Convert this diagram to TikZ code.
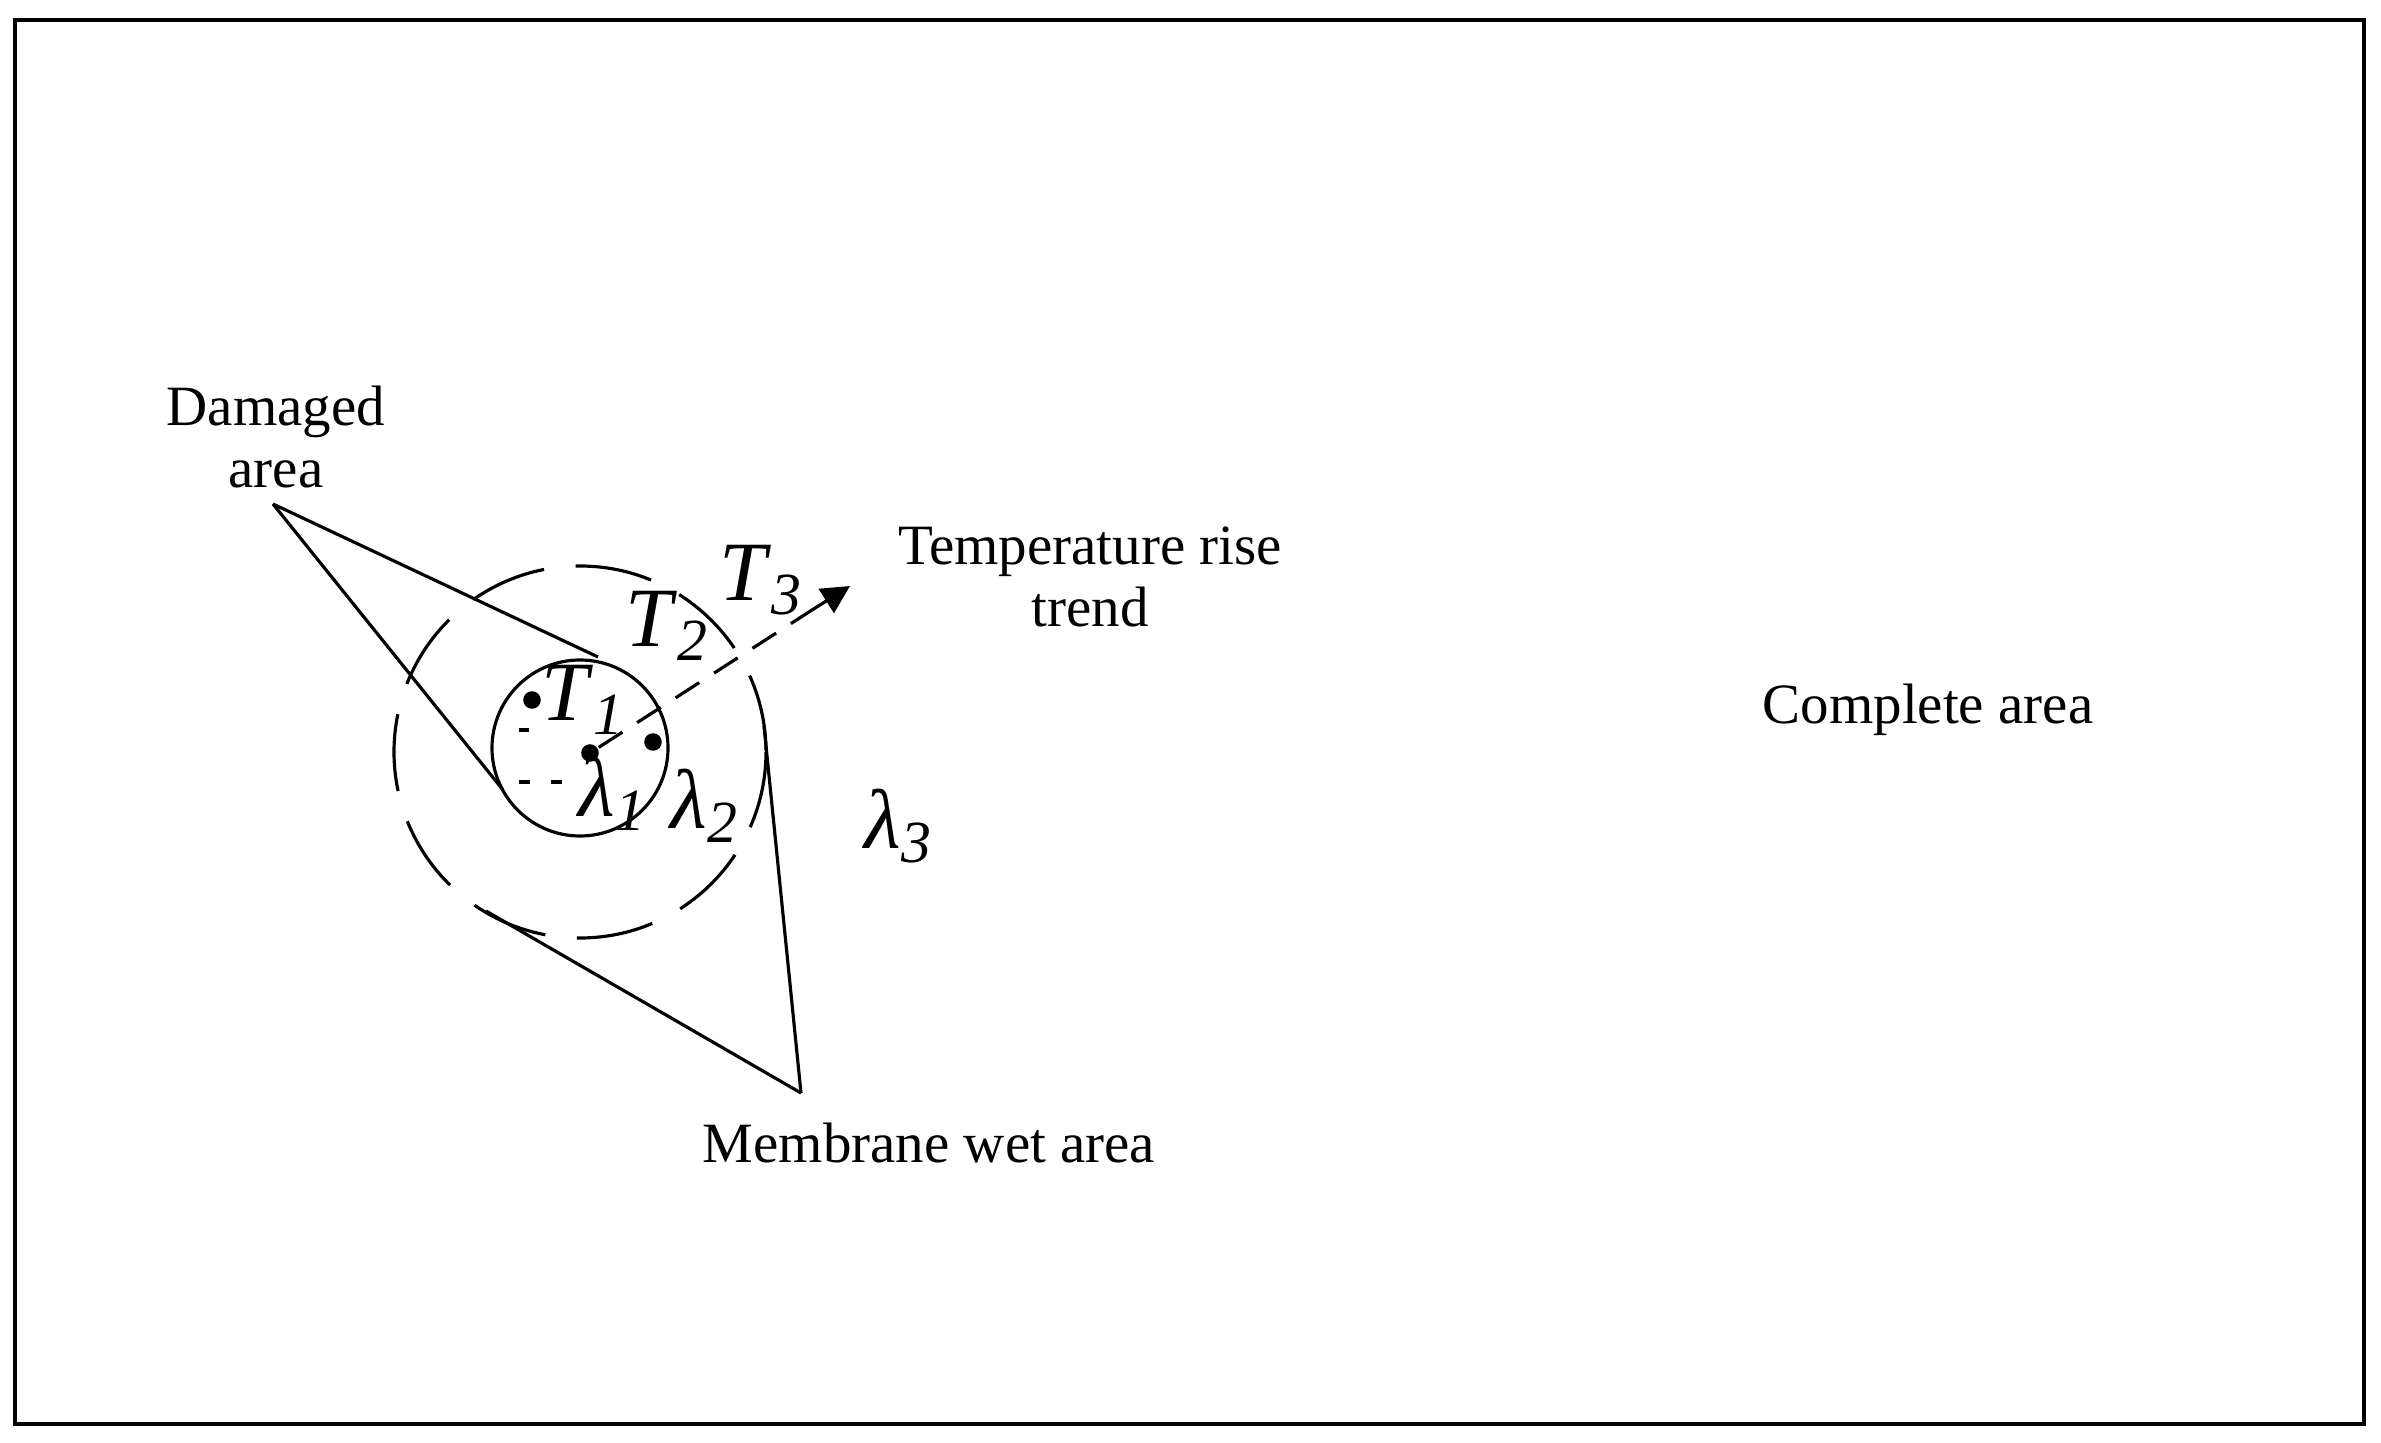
\documentclass[tikz,border=0pt]{standalone}
\usepackage{fontspec}
\setmainfont{Liberation Serif}
\usetikzlibrary{arrows.meta}
\newcommand{\sym}[2]{\textit{#1}\raisebox{-0.35ex}{\fontsize{17}{17}\selectfont\textit{#2}}}
\tikzset{
  lbl/.style={font=\fontsize{16.2}{17.5}\selectfont, align=center},
  big/.style={font=\fontsize{24}{26}\selectfont},
  blob/.style={circle, fill=black, inner sep=0pt, minimum size=5pt},
}
\begin{document}
\begin{tikzpicture}[x=0.01cm, y=-0.01cm, line width=0.9pt]
      \path[use as bounding box] (0, 0) rectangle (2381, 1443);
      \draw (15, 20) rectangle (2364, 1424);

      % regions
      \draw (580, 748) circle (88);
      \draw[dash pattern=on 22pt off 9pt] (580, 752) circle (186);

      % damaged area
      \node[lbl] (dmg) at (276, 437) {Damaged\\area};
      \coordinate (dtip) at (273, 504);
      \draw (dtip) -- (598, 657);
      \draw (dtip) -- (503, 790);

      % membrane wet area
      \node[lbl] (wet) at (929, 1143) {Membrane wet area};
      \coordinate (wtip) at (801, 1093);
      \draw (wtip) -- (486, 911);
      \draw (wtip) -- (764, 726);

      % particles
      \node[blob] (p1) at (532, 700) {};
      \node[blob] (p2) at (590, 753) {};
      \node[blob] (p3) at (653, 742) {};
      \draw[line width=1.3pt] (519, 730) -- (529, 730);
      \draw[line width=1.3pt] (519, 782) -- (530, 782);
      \draw[line width=1.3pt] (551, 782) -- (562, 782);

      % trend
      \coordinate (tpre) at (812, 610);
      \coordinate (tend) at (850, 586);
      \draw[dash pattern=on 8pt off 5pt] (p2) -- (tpre);
      \draw[-{Triangle[length=8pt, width=8pt]}] (tpre) -- (tend);
      \node[lbl] (trend) at (1090, 577) {Temperature rise\\trend};

      % symbols
      \node[big] (T1) at (582, 700) {\sym{T}{1}};
      \node[big] (T2) at (666, 626) {\sym{T}{2}};
      \node[big] (T3) at (760, 580) {\sym{T}{3}};
      \node[big] (L1) at (612, 794) {\sym{λ}{1}};
      \node[big] (L2) at (704, 806) {\sym{λ}{2}};
      \node[big] (L3) at (898, 826) {\sym{λ}{3}};

      \node[lbl] (full) at (1928, 710) {Complete area};
\end{tikzpicture}
\end{document}
